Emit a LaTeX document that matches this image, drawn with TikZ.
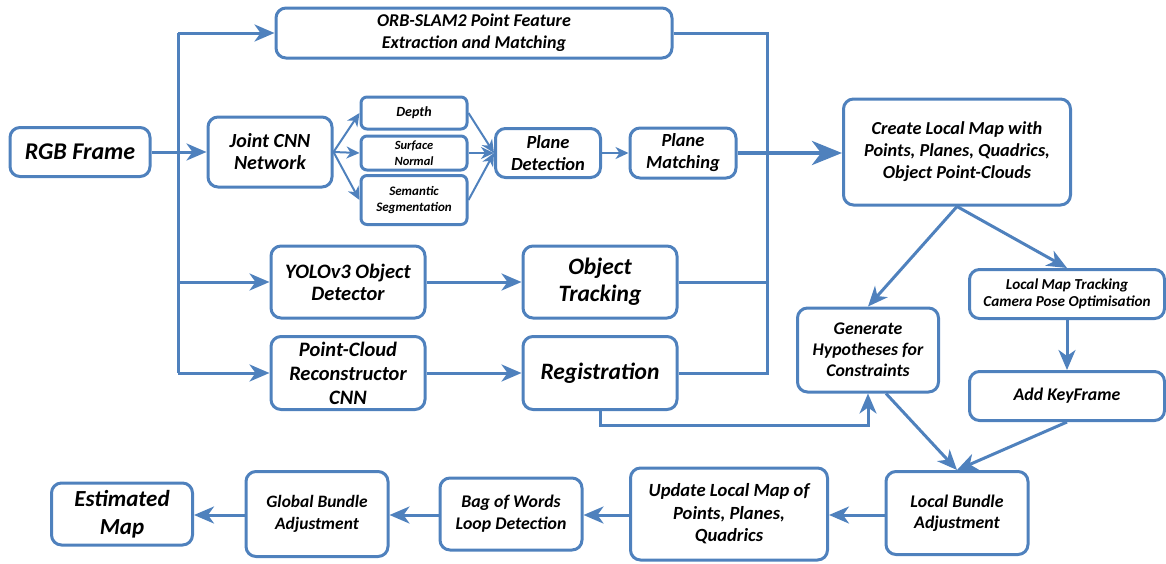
\documentclass[tikz,border=0pt]{standalone}
\usepackage{fontspec}
\setmainfont{Carlito}
\usetikzlibrary{arrows.meta}
\definecolor{flowblue}{RGB}{79,129,189}
\tikzset{
		box/.style={draw=flowblue, line width=3pt, rounded corners=10pt, align=center, inner sep=1pt},
		fs/.style 2 args={font=\fontsize{#1}{#2}\selectfont\bfseries\itshape},
		link/.style={draw=flowblue, line width=3pt},
		flow/.style={link, -{Stealth[length=20pt, width=17pt, inset=6pt]}},
		thin flow/.style={draw=flowblue, line width=2pt, -{Stealth[length=13pt, width=12pt, inset=4pt]}},
		big flow/.style={draw=flowblue, line width=4.5pt, -{Stealth[length=30pt, width=24pt, inset=9pt]}}
	}
\begin{document}
\begin{tikzpicture}[x=1pt, y=-1pt]
				\useasboundingbox (0,0) rectangle (1166,563);

				% input and the front-end branches
				\node[box, fs={24}{26}, minimum width=140pt, minimum height=49pt]  (rgb)    at (80,152)   {RGB Frame};
				\node[box, fs={18}{22}, minimum width=396pt, minimum height=50pt]  (orb)    at (474,33)   {ORB-SLAM2 Point Feature\\Extraction and Matching};
				\node[box, fs={20}{22}, minimum width=124pt, minimum height=70pt]  (joint)  at (270,152)  {Joint CNN\\Network};
				\node[box, fs={14}{16}, rounded corners=6pt, minimum width=106pt, minimum height=32pt]   (depth)    at (414,113) {Depth};
				\node[box, fs={12.5}{16}, rounded corners=6pt, minimum width=106pt, minimum height=34pt] (normal)   at (414,153) {Surface\\Normal};
				\node[box, fs={13}{16}, rounded corners=6pt, minimum width=106pt, minimum height=49pt]   (semantic) at (414,200) {Semantic\\Segmentation};
				\node[box, fs={18.5}{22}, minimum width=105pt, minimum height=49pt] (pdet)   at (548,153)  {Plane\\Detection};
				\node[box, fs={18.5}{22}, minimum width=106pt, minimum height=50pt] (pmatch) at (683,153)  {Plane\\Matching};
				\node[box, fs={20.5}{22}, minimum width=154pt, minimum height=72pt] (yolo)   at (348,282)  {YOLOv3 Object\\Detector};
				\node[box, fs={23.5}{27}, minimum width=154pt, minimum height=72pt] (track)  at (600,282)  {Object\\Tracking};
				\node[box, fs={20.5}{24}, minimum width=154pt, minimum height=73pt] (pcr)    at (348,373)  {Point-Cloud\\Reconstructor\\CNN};
				\node[box, fs={23.5}{27}, minimum width=154pt, minimum height=73pt] (reg)    at (600,373)  {Registration};

				% back-end
				\node[box, fs={18.3}{22}, minimum width=227pt, minimum height=106pt] (local) at (957,152) {Create Local Map with\\Points, Planes, Quadrics,\\Object Point-Clouds};
				\node[box, fs={17.8}{21}, minimum width=141pt, minimum height=84pt]   (hyp)    at (868,350)  {Generate\\Hypotheses for\\Constraints};
				\node[box, fs={15.2}{17.5}, minimum width=195pt, minimum height=49pt] (lmt)    at (1067,294) {Local Map Tracking\\Camera Pose Optimisation};
				\node[box, fs={17.8}{21}, minimum width=195pt, minimum height=49pt]   (key)    at (1067,396) {Add KeyFrame};
				\node[box, fs={17.8}{21}, minimum width=142pt, minimum height=83pt]   (lba)    at (957,513)  {Local Bundle\\Adjustment};
				\node[box, fs={18.6}{22.5}, minimum width=197pt, minimum height=92pt] (update) at (729,514)  {Update Local Map of\\Points, Planes,\\Quadrics};
				\node[box, fs={17.8}{22}, minimum width=142pt, minimum height=72pt]   (bow)    at (511,514)  {Bag of Words\\Loop Detection};
				\node[box, fs={17.4}{22}, minimum width=142pt, minimum height=85pt]   (gba)    at (317,514)  {Global Bundle\\Adjustment};
				\node[box, fs={23}{28}, minimum width=141pt, minimum height=62pt]     (est)    at (122,514)  {Estimated\\Map};

				% bus lines
				\coordinate (busT) at (178,33);
				\coordinate (busB) at (178,373);
				\coordinate (mergeT) at (767,33);
				\coordinate (mergeB) at (767,373);
				\coordinate (hook) at (868,425);
				\coordinate (row) at (0,515);

				\draw[link] (busT) -- (busB);
				\draw[flow] (rgb) -- (joint);
				\draw[flow] (busT) -- (orb);
				\draw[flow] (busB |- yolo) -- (yolo);
				\draw[flow] (busB) -- (pcr);

				\draw[thin flow] (joint.east) -- (depth.west);
				\draw[thin flow] (joint.east) -- (normal.west);
				\draw[thin flow] (joint.east) -- (semantic.west);
				\draw[thin flow] (depth.east) -- (pdet.west);
				\draw[thin flow] (normal.east) -- (pdet.west);
				\draw[thin flow] (semantic.east) -- (pdet.west);
				\draw[thin flow] (pdet) -- (pmatch);

				\draw[flow] (yolo) -- (track);
				\draw[flow] (pcr) -- (reg);

				\draw[link] (orb) -- (mergeT) -- (mergeB) -- (reg);
				\draw[link] (track) -- (track -| mergeT);
				\draw[big flow] (pmatch.east) -- (pmatch.east -| local.west);

				\draw[flow] (local.south) -- (hyp.north);
				\draw[flow] (local.south) -- (lmt.north);
				\draw[flow] (lmt) -- (key);
				\draw[flow] (reg.south) |- (hook) -- (hyp.south);
				\draw[flow] ([xshift=18pt]hyp.south) -- (lba.north);
				\draw[flow] (key.south) -- (lba.north);

				\draw[flow] (lba.west |- row) -- (update.east |- row);
				\draw[flow] (update.west |- row) -- (bow.east |- row);
				\draw[flow] (bow.west |- row) -- (gba.east |- row);
				\draw[flow] (gba.west |- row) -- (est.east |- row);
			\end{tikzpicture}
\end{document}
